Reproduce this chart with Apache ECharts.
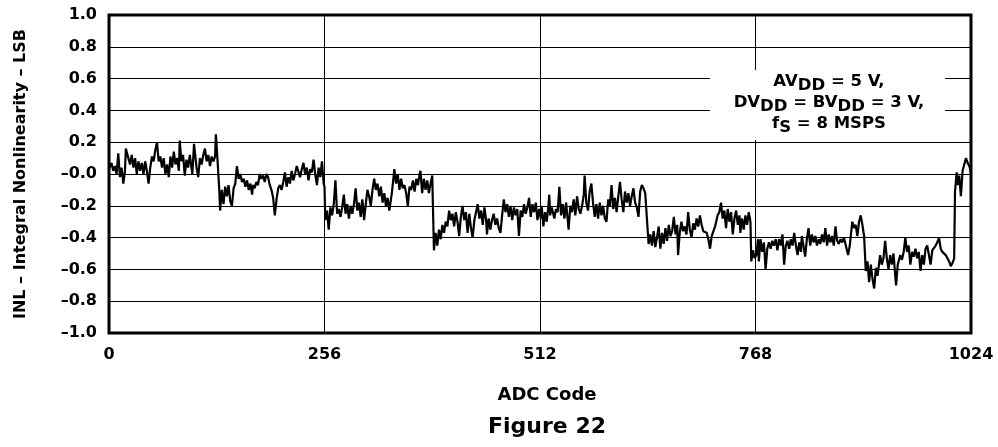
<!DOCTYPE html>
<html>
<head>
<meta charset="utf-8">
<script src="https://cdn.jsdelivr.net/npm/echarts@6/dist/echarts.min.js"></script>
<style>
  html, body { margin: 0; padding: 0; background: #fff; }
  #chart { width: 998px; height: 447px; }
</style>
</head>
<body>
<div id="chart"></div>
<script>
// ADC code ticks and y ticks
const xTicks = [0, 256, 512, 768, 1024];
const yMin = -1.0, yMax = 1.0, yStep = 0.2;

// INL samples: [ADC code, INL (LSB)]
const inlSeg1 = [[0,0.03],[1,0.04],[3,0.07],[5,0.02],[7,0.05],[9,0.00],[11,0.13],[13,-0.02],[15,0.04],[17,-0.06],[19,0.02],
  [20,0.16],[23,0.10],[25,0.06],[27,0.12],[29,0.04],[31,0.10],[33,0.00],[35,0.08],[37,0.02],[39,0.07],[41,0.00],
  [43,0.08],[45,0.02],[47,-0.06],[49,0.04],[51,0.11],[53,0.08],[55,0.15],[57,0.20],[59,0.08],[61,0.11],[63,0.04],
  [65,0.10],[67,0.00],[69,0.06],[71,-0.02],[73,0.11],[75,0.04],[77,0.14],[79,0.06],[81,0.10],[83,0.02],[84,0.21],
  [86,0.08],[88,0.12],[90,-0.01],[92,0.09],[94,0.04],[96,0.12],[99,0.00],[101,0.19],[104,0.04],[106,-0.02],[108,0.10],
  [110,0.06],[112,0.12],[114,0.16],[116,0.08],[118,0.12],[120,0.05],[122,0.11],[124,0.08],[126,0.11],[127,0.25],
  [129,0.08],[131,-0.10],[132,-0.23],[134,-0.10],[136,-0.19],[138,-0.08],[140,-0.14],[142,-0.07],[144,-0.17],
  [146,-0.20],[148,-0.09],[150,-0.06],[152,0.05],[154,-0.03],[156,0.00],[158,-0.05],[160,-0.03],[162,-0.08],
  [164,-0.04],[166,-0.10],[168,-0.06],[170,-0.13],[171,-0.07],[173,-0.09],[175,-0.05],[177,-0.07],[179,0.00],
  [181,-0.03],[183,-0.01],[185,-0.05],[187,0.00],[189,-0.02],[191,-0.07],[193,-0.10],[195,-0.15],[197,-0.26],
  [199,-0.16],[201,-0.09],[203,-0.07],[205,-0.10],[207,-0.05],[209,0.01],[211,-0.08],[213,-0.02],[215,-0.06],
  [217,0.02],[219,-0.04],[221,0.00],[223,0.05],[225,0.06],[227,-0.02],[229,0.03],[231,0.07],[233,0.00],[235,0.04],
  [237,-0.04],[239,0.03],[241,0.01],[243,0.09],[245,0.00],[247,-0.07],[249,0.04],[251,-0.02],[253,0.08],[255,-0.06]];

const inlSeg2 = [[256,-0.08],[257,-0.29],[259,-0.23],[261,-0.35],[263,-0.21],[265,-0.26],[267,-0.19],[269,-0.04],
  [271,-0.25],[273,-0.22],[275,-0.27],[277,-0.21],[279,-0.13],[281,-0.25],[283,-0.19],[285,-0.28],[287,-0.20],
  [289,-0.25],[291,-0.19],[293,-0.09],[295,-0.23],[297,-0.18],[299,-0.27],[301,-0.16],[303,-0.29],[305,-0.19],
  [307,-0.10],[309,-0.14],[311,-0.20],[313,-0.10],[315,-0.03],[317,-0.10],[319,-0.06],[321,-0.14],[323,-0.08],
  [325,-0.18],[327,-0.12],[329,-0.20],[331,-0.15],[333,-0.23],[335,-0.24],[336,-0.12],[339,0.03],[341,-0.06],
  [343,0.00],[345,-0.10],[347,-0.03],[349,-0.09],[351,-0.07],[353,-0.12],[355,-0.20],[357,-0.08],[359,-0.10],
  [361,-0.04],[363,-0.11],[365,-0.03],[367,-0.07],[369,0.00],[370,0.02],[372,-0.12],[374,-0.03],[376,-0.10],
  [378,-0.04],[380,-0.12],[382,-0.06],[384,-0.01],[386,-0.48],[388,-0.37],[390,-0.45],[392,-0.35],[394,-0.41],
  [396,-0.32],[398,-0.37],[400,-0.30],[402,-0.33],[404,-0.23],[406,-0.29],[408,-0.25],[410,-0.33],[412,-0.24],
  [414,-0.30],[416,-0.39],[418,-0.27],[420,-0.20],[422,-0.29],[424,-0.24],[426,-0.37],[428,-0.25],[430,-0.34],
  [432,-0.40],[434,-0.29],[436,-0.24],[438,-0.19],[440,-0.28],[442,-0.23],[444,-0.32],[446,-0.21],[448,-0.29],
  [449,-0.38],[451,-0.28],[453,-0.35],[455,-0.29],[457,-0.25],[459,-0.32],[461,-0.28],[463,-0.34],[465,-0.37],
  [467,-0.26],[469,-0.16],[471,-0.24],[473,-0.19],[475,-0.27],[477,-0.20],[479,-0.29],[481,-0.21],[483,-0.26],
  [485,-0.22],[487,-0.39],[489,-0.23],[491,-0.27],[493,-0.19],[495,-0.25],[497,-0.21],[499,-0.15],[501,-0.27],
  [503,-0.19],[505,-0.24],[507,-0.18],[509,-0.29],[511,-0.22]];

const inlSeg3 = [[513,-0.28],[514,-0.20],[516,-0.33],[518,-0.24],[520,-0.30],[522,-0.20],[523,-0.13],[524,-0.26],
  [526,-0.21],[529,-0.28],[531,-0.22],[533,-0.24],[535,-0.08],[537,-0.26],[539,-0.19],[541,-0.28],[543,-0.18],
  [546,-0.35],[548,-0.20],[550,-0.24],[552,-0.16],[554,-0.26],[556,-0.14],[558,-0.22],[560,-0.25],[562,-0.20],
  [564,-0.13],[565,-0.01],[567,-0.18],[569,-0.23],[571,-0.11],[573,-0.06],[575,-0.18],[577,-0.27],[579,-0.19],
  [581,-0.28],[583,-0.18],[585,-0.26],[587,-0.20],[589,-0.28],[591,-0.30],[593,-0.16],[595,-0.20],[597,-0.07],
  [599,-0.22],[601,-0.15],[603,-0.24],[605,-0.14],[607,-0.05],[609,-0.16],[611,-0.24],[613,-0.11],[615,-0.18],
  [617,-0.12],[619,-0.20],[621,-0.14],[623,-0.09],[625,-0.18],[627,-0.21],[629,-0.27],[631,-0.11],[633,-0.07],
  [635,-0.09],[637,-0.12],[639,-0.11],[641,-0.44],[643,-0.38],[645,-0.45],[647,-0.36],[649,-0.46],[651,-0.40],
  [653,-0.33],[655,-0.47],[657,-0.37],[659,-0.44],[661,-0.34],[663,-0.42],[665,-0.32],[667,-0.39],[669,-0.36],
  [671,-0.27],[673,-0.38],[675,-0.32],[676,-0.51],[678,-0.37],[680,-0.30],[682,-0.36],[684,-0.33],[686,-0.38],
  [688,-0.24],[690,-0.35],[692,-0.40],[694,-0.31],[696,-0.35],[698,-0.28],[700,-0.33],[702,-0.26],[704,-0.32],
  [706,-0.36],[708,-0.35],[710,-0.37],[712,-0.41],[714,-0.47],[716,-0.39],[718,-0.38],[720,-0.33],[723,-0.26],
  [725,-0.24],[727,-0.18],[729,-0.28],[731,-0.23],[733,-0.34],[735,-0.22],[737,-0.30],[739,-0.24],[741,-0.38],
  [743,-0.28],[745,-0.23],[747,-0.32],[749,-0.26],[750,-0.37],[752,-0.28],[754,-0.35],[756,-0.26],[758,-0.32],
  [760,-0.24],[762,-0.30],[763,-0.55],[765,-0.48],[767,-0.53]];

const inlSeg4 = [[769,-0.51],[771,-0.41],[772,-0.55],[774,-0.41],[776,-0.49],[778,-0.43],[780,-0.60],[782,-0.47],
  [784,-0.43],[786,-0.47],[788,-0.42],[790,-0.45],[792,-0.41],[794,-0.48],[796,-0.41],[798,-0.45],[800,-0.38],
  [802,-0.57],[804,-0.45],[806,-0.42],[808,-0.47],[810,-0.41],[812,-0.45],[814,-0.37],[816,-0.45],[818,-0.51],
  [820,-0.43],[822,-0.49],[823,-0.39],[825,-0.45],[827,-0.52],[829,-0.41],[831,-0.34],[833,-0.45],[835,-0.38],
  [837,-0.43],[839,-0.39],[841,-0.45],[843,-0.41],[845,-0.44],[847,-0.38],[849,-0.43],[851,-0.34],[853,-0.45],
  [855,-0.38],[857,-0.43],[859,-0.39],[861,-0.45],[863,-0.33],[865,-0.42],[867,-0.44],[869,-0.41],[871,-0.43],
  [873,-0.40],[875,-0.41],[878,-0.51],[880,-0.45],[883,-0.30],[885,-0.34],[887,-0.32],[889,-0.39],[891,-0.30],
  [893,-0.26],[895,-0.32],[897,-0.39],[899,-0.61],[901,-0.55],[903,-0.68],[905,-0.57],[907,-0.66],[909,-0.72],
  [911,-0.59],[913,-0.64],[916,-0.51],[918,-0.57],[920,-0.53],[922,-0.42],[924,-0.53],[926,-0.60],[928,-0.51],
  [930,-0.57],[932,-0.50],[934,-0.64],[935,-0.70],[937,-0.57],[940,-0.51],[942,-0.54],[944,-0.49],[946,-0.40],
  [948,-0.49],[950,-0.45],[952,-0.57],[954,-0.49],[956,-0.52],[958,-0.47],[960,-0.53],[962,-0.49],[964,-0.61],
  [966,-0.51],[968,-0.57],[970,-0.47],[972,-0.45],[974,-0.51],[976,-0.57],[978,-0.48],[980,-0.49],[982,-0.45],
  [984,-0.43],[986,-0.40],[988,-0.47],[990,-0.49],[992,-0.48],[994,-0.51],[996,-0.52],[998,-0.55],[1000,-0.58],
  [1002,-0.56],[1004,-0.53],[1005,-0.11],[1007,0.01],[1008,-0.07],[1010,-0.01],[1012,-0.14],[1014,0.02],
  [1016,0.06],[1018,0.10],[1020,0.07],[1022,0.05],[1024,0.01]];

const xTitle = 'ADC Code';
const yTitle = 'INL – Integral Nonlinearity – LSB';
const figTitle = 'Figure 22';
// annotation lines: [text, isSubscript]
const noteLines = [
  [['AV', false], ['DD', true], [' = 5 V,', false]],
  [['DV', false], ['DD', true], [' = BV', false], ['DD', true], [' = 3 V,', false]],
  [['f', false], ['S', true], [' = 8 MSPS', false]]
];

const FONT = 'DejaVu Sans';
const NOTE_SIZE = 16.5;
const inlData = inlSeg1.concat(inlSeg2, inlSeg3, inlSeg4);

// build annotation text pieces (measured with canvas so subscripts sit right)
const mctx = document.createElement('canvas').getContext('2d');
mctx.font = 'bold ' + NOTE_SIZE + 'px "' + FONT + '"';
const noteCx = 829, noteTops = [73, 94, 115], subDrop = 4;
const noteEls = [{
  type: 'rect', z: 10,
  shape: { x: 710, y: 70, width: 235, height: 70 },
  style: { fill: '#fff' }
}];
noteLines.forEach(function (line, li) {
  const widths = line.map(function (p) { return mctx.measureText(p[0]).width; });
  const total = widths.reduce(function (a, b) { return a + b; }, 0);
  let x = noteCx - total / 2;
  line.forEach(function (p, pi) {
    noteEls.push({
      type: 'text', z: 11, x: x, y: noteTops[li] + (p[1] ? subDrop : 0),
      style: {
        text: p[0], align: 'left', verticalAlign: 'top',
        fill: '#000', fontFamily: FONT, fontWeight: 'bold', fontSize: NOTE_SIZE
      }
    });
    x += widths[pi];
  });
});

const chart = echarts.init(document.getElementById('chart'), null, { renderer: 'canvas' });
chart.setOption({
  animation: false,
  backgroundColor: '#fff',
  grid: {
    left: 109, right: 27, top: 15, bottom: 114,
    show: true, borderColor: '#000', borderWidth: 3, backgroundColor: 'transparent'
  },
  xAxis: {
    type: 'value',
    min: xTicks[0], max: xTicks[xTicks.length - 1], interval: 256,
    axisLine: { show: false },
    axisTick: { show: false },
    axisLabel: {
      color: '#000', fontFamily: FONT, fontWeight: 'bold', fontSize: 16, margin: 14,
      formatter: function (v) { return String(Math.round(v)); }
    },
    splitLine: { show: true, lineStyle: { color: '#000', width: 1 } },
    name: xTitle, nameLocation: 'middle', nameGap: 53,
    nameTextStyle: { color: '#000', fontFamily: FONT, fontWeight: 'bold', fontSize: 18, padding: [0, 0, 0, 14] }
  },
  yAxis: {
    type: 'value',
    min: yMin, max: yMax, interval: yStep,
    axisLine: { show: false },
    axisTick: { show: false },
    axisLabel: {
      color: '#000', fontFamily: FONT, fontWeight: 'bold', fontSize: 16, margin: 12,
      formatter: function (v) {
        const r = Math.round(v * 10) / 10;
        if (r <= 0) return '\u2013' + Math.abs(r).toFixed(1);
        return r.toFixed(1);
      }
    },
    splitLine: { show: true, lineStyle: { color: '#000', width: 1 } },
    name: yTitle, nameLocation: 'middle', nameGap: 80,
    nameTextStyle: { color: '#000', fontFamily: FONT, fontWeight: 'bold', fontSize: 16 }
  },
  graphic: noteEls.concat([
    {
      type: 'text', x: 547, y: 416,
      style: {
        text: figTitle, align: 'center', verticalAlign: 'top',
        fill: '#000', fontFamily: FONT, fontWeight: 'bold', fontSize: 22
      }
    }
  ]),
  series: [{
    type: 'line',
    data: inlData,
    showSymbol: false,
    symbol: 'none',
    lineStyle: { color: '#000', width: 2.2 },
    z: 5
  }]
});
</script>
</body>
</html>
